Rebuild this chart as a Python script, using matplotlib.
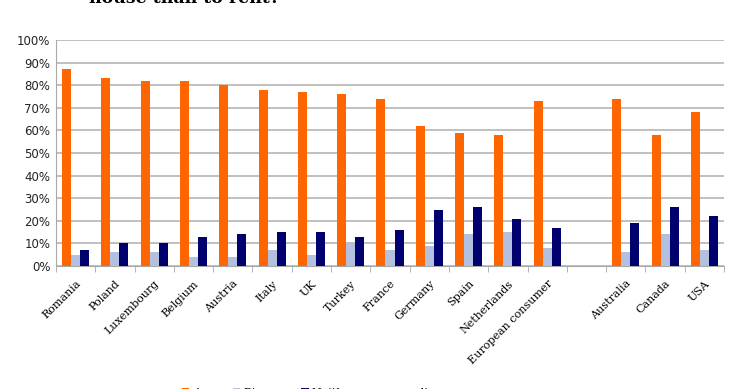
import numpy as np
import matplotlib
matplotlib.use('Agg')
import matplotlib.pyplot as plt
from matplotlib.ticker import PercentFormatter, FixedLocator

countries = ['Romania', 'Poland', 'Luxembourg', 'Belgium', 'Austria', 'Italy',
             'UK', 'Turkey', 'France', 'Germany', 'Spain', 'Netherlands',
             'European consumer', '', 'Australia', 'Canada', 'USA']
agree = [87, 83, 82, 82, 80, 78, 77, 76, 74, 62, 59, 58, 73, np.nan, 74, 58, 68]
disagree = [5, 6, 6, 4, 4, 7, 5, 10, 7, 9, 14, 15, 8, np.nan, 6, 14, 7]
neither = [7, 10, 10, 13, 14, 15, 15, 13, 16, 25, 26, 21, 17, np.nan, 19, 26, 22]

fig = plt.figure(figsize=(7.4, 3.89), dpi=100)
ax = fig.add_axes([56/740, 1 - 266/389, (724-56)/740, (266-40)/389])

x = np.arange(len(countries))
w = 0.23
ax.bar(x - w, agree, w, color='#FF6600', label='Agree', zorder=3)
ax.bar(x, disagree, w, color='#B4C0E0', label='Disagree', zorder=3)
ax.bar(x + w, neither, w, color='#00006E', label='Neither agree nor disagree', zorder=3)

ax.set_xlim(-0.5, len(countries) - 0.5)
ax.set_ylim(0, 100)
ax.set_yticks(np.arange(0, 101, 10))
ax.yaxis.set_major_formatter(PercentFormatter(decimals=0))
ax.yaxis.grid(True, color='#C0C0C0', linewidth=1.4, zorder=0)
for s in ['top', 'right']:
    ax.spines[s].set_visible(False)
ax.spines['left'].set_color('#A8A8A8')
ax.spines['bottom'].set_color('#A8A8A8')
ax.tick_params(axis='y', length=0, labelsize=8.5, colors='#222222', pad=4)

ax.set_xticks(x)
ax.set_xticklabels(countries, rotation=45, ha='right', rotation_mode='anchor',
                   family='DejaVu Serif', fontsize=8)
ax.xaxis.set_minor_locator(FixedLocator(np.arange(-0.5, len(countries), 1)))
ax.tick_params(axis='x', which='major', length=0, pad=9)
ax.tick_params(axis='x', which='minor', length=4, color='#A8A8A8')

fig.text(89/740, 1 - 7/389, 'house than to rent?', family='DejaVu Serif',
         fontweight='bold', fontsize=12.5, ha='left', va='bottom')

ax.legend(loc='upper left', bbox_to_anchor=(176/740, 1 - 382/389),
          bbox_transform=fig.transFigure, ncol=3, frameon=False,
          prop={'family': 'DejaVu Serif', 'size': 8}, handlelength=0.7,
          handleheight=0.7, columnspacing=0.6, handletextpad=0.3, borderpad=0)

fig.savefig('out.png', dpi=100, facecolor='white')
